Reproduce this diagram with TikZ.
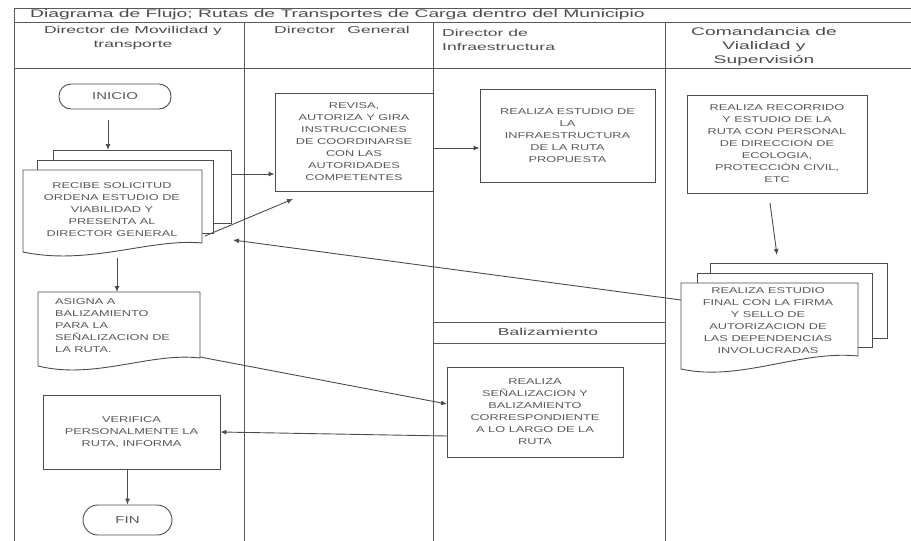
\documentclass[tikz,border=0pt]{standalone}
\usepackage{fontspec}
\setmainfont{Liberation Sans}
\newfontfamily\titlefont[FakeStretch=1.75]{Liberation Sans}
\newfontfamily\headfont[FakeStretch=1.75]{Liberation Sans}
\newfontfamily\boxfont[FakeStretch=1.5]{Liberation Sans}
\usetikzlibrary{arrows.meta,calc}
\begin{document}
\begin{tikzpicture}[x=1pt,y=-1pt,
 ln/.style={draw=black!70,line width=0.9pt},
 lane/.style={draw=black!65,line width=0.8pt},
 box/.style={ln,fill=white,rectangle,inner sep=0pt,align=center,text=black!65,font=\boxfont\fontsize{8.5}{12}\selectfont},
 doctext/.style={rectangle,inner sep=0pt,align=center,text=black!65,font=\boxfont\fontsize{8.5}{12}\selectfont},
 term/.style={box,font=\boxfont\fontsize{10}{12}\selectfont},
 sheet/.style={ln,fill=white},
 arr/.style={ln,-{Latex[length=6pt,width=5pt]}},
 hd/.style={text=black!70,font=\headfont\fontsize{10}{14}\selectfont,inner sep=0pt,align=center},
]
\useasboundingbox (0,0) rectangle (911,541);
% lanes
\draw[lane] (14,8) -- (911,8);
\draw[lane] (14,22) -- (911,22);
\draw[lane] (14,68) -- (911,68);
\draw[lane] (14,8) -- (14,541);
\draw[lane] (244,22) -- (244,541);
\draw[lane] (433,22) -- (433,541);
\draw[lane] (665,22) -- (665,541);
\draw[lane] (433,322) -- (665,322);
\draw[lane] (433,343) -- (665,343);
% title and headers
\node[anchor=west,text=black!70,inner sep=0pt,font=\titlefont\fontsize{11}{13}\selectfont] (title) at (30,15) {Diagrama de Flujo; Rutas de Transportes de Carga dentro del Municipio};
\node[hd] (h1) at (133,38) {Director de Movilidad y\\transporte};
\node[hd] (h2) at (342,30) {Director\hspace{12pt}General};
\node[hd,align=left,anchor=west] (h3) at (442,40) {Director de\\Infraestructura};
\node[hd,font=\headfont\fontsize{11}{14}\selectfont] (h4) at (764,47) {Comandancia de\\Vialidad y\\Supervisión};
\node[hd] (bal) at (548,332) {Balizamiento};
% column 1
\node[term,minimum width=112pt,minimum height=25pt,rounded corners=12pt] (inicio) at (115,96.5) {INICIO};
\filldraw[sheet] (53,150) rectangle (231,223);
\filldraw[sheet] (37,160) rectangle (213,233);
\filldraw[sheet] (23,170) -- (202,170) -- (202,243) .. controls (150,238) and (90,266) .. (23,252) -- cycle;
\node[doctext] (recibe) at (112,210) {RECIBE SOLICITUD\\ORDENA ESTUDIO DE\\VIABILIDAD Y\\PRESENTA AL\\DIRECTOR GENERAL};
\filldraw[sheet] (38,292) -- (200,292) -- (200,358) .. controls (150,352) and (95,380) .. (38,366) -- cycle;
\node[doctext,align=left,anchor=west] (asigna) at (55,326) {ASIGNA A\\BALIZAMIENTO\\PARA LA\\SEÑALIZACION DE\\LA RUTA.};
\node[box,minimum width=177pt,minimum height=74pt] (verifica) at (131.5,432) {VERIFICA\\PERSONALMENTE LA\\RUTA, INFORMA};
\node[term,minimum width=89pt,minimum height=30pt,rounded corners=15pt] (fin) at (127.5,520) {FIN};
% column 2
\node[box,minimum width=158pt,minimum height=98pt] (revisa) at (354,142) {REVISA,\\AUTORIZA Y GIRA\\INSTRUCCIONES\\DE COORDINARSE\\CON LAS\\AUTORIDADES\\COMPETENTES};
% column 3
\node[box,minimum width=175pt,minimum height=93pt] (infra) at (567.5,135.5) {REALIZA ESTUDIO DE\\LA\\INFRAESTRUCTURA\\DE LA RUTA\\PROPUESTA};
\node[box,minimum width=176pt,minimum height=90pt] (senal) at (535,412) {REALIZA\\SEÑALIZACION Y\\BALIZAMIENTO\\CORRESPONDIENTE\\A LO LARGO DE LA\\RUTA};
% column 4
\node[box,minimum width=180pt,minimum height=98pt] (recorrido) at (777,144) {REALIZA RECORRIDO\\Y ESTUDIO DE LA\\RUTA CON PERSONAL\\DE DIRECCION DE\\ECOLOGIA,\\PROTECCIÓN CIVIL,\\ETC};
\filldraw[sheet] (710,263) rectangle (887,338);
\filldraw[sheet] (697,273) rectangle (872,347);
\filldraw[sheet] (681,283) -- (858,283) -- (858,356) .. controls (800,350) and (740,382) .. (681,369) -- cycle;
\node[doctext] (final) at (768,321) {REALIZA ESTUDIO\\FINAL CON LA FIRMA\\Y SELLO DE\\AUTORIZACION DE\\LAS DEPENDENCIAS\\INVOLUCRADAS};
% connector ends
\coordinate (rtop) at (108,150);
\coordinate (r1) at (231,174);
\coordinate (r2) at (205,236);
\coordinate (rv) at (293,199);
\coordinate (a) at (433,148);
\coordinate (c1) at (770,203);
\coordinate (c2) at (777,255);
\coordinate (f1) at (681,300);
\coordinate (f2) at (233,240);
\coordinate (rb) at (117,258);
\coordinate (at) at (117,292);
\coordinate (ab) at (200,357);
\coordinate (s1) at (447,404);
\coordinate (s2) at (447,436);
% connectors
\draw[arr,shorten <=11pt] (inicio.south -| rtop) -- (rtop);
\draw[arr] (r1) -- (revisa.west |- r1);
\draw[arr] (r2) -- (rv);
\draw[arr] (revisa.east |- a) -- (infra.west |- a);
\draw[arr] (c1) -- (c2);
\draw[arr] (f1) -- (f2);
\draw[arr] (rb) -- (at);
\draw[arr] (ab) -- (s1);
\draw[arr] (s2) -- (verifica.east);
\draw[arr] (verifica.south -| fin.north) -- (fin.north);
\end{tikzpicture}
\end{document}
